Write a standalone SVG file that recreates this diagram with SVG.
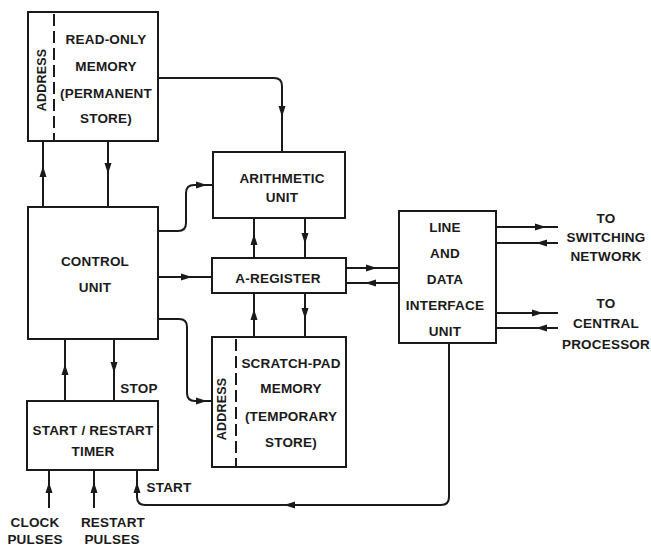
<svg xmlns="http://www.w3.org/2000/svg" xmlns:xlink="http://www.w3.org/1999/xlink" width="651" height="546" viewBox="0 0 651 546">
<style>
.box{fill:none;stroke:#1a1a1a;stroke-width:2}
.dash{stroke:#1a1a1a;stroke-width:2;stroke-dasharray:12 5}
.ln{fill:none;stroke:#1a1a1a;stroke-width:2}
text{font-family:"Liberation Sans",Arial,sans-serif;font-weight:bold;font-size:13.5px;fill:#1a1a1a;text-anchor:middle;dominant-baseline:central;letter-spacing:0.2px}
</style>
<defs>
<path id="ah" d="M6,0 L-5,-3.5 L-5,3.5 Z" fill="#1a1a1a"/>
</defs>
<rect width="651" height="546" fill="#fff"/>
<g id="rom">
<rect class="box" x="28" y="12" width="130" height="129"/>
<line class="dash" x1="54" y1="14" x2="54" y2="141"/>
<text transform="translate(42,80) rotate(-90)" style="font-size:12.5px">ADDRESS</text>
<text x="106" y="39">READ-ONLY</text>
<text x="106" y="66">MEMORY</text>
<text x="106" y="93">(PERMANENT</text>
<text x="106" y="118">STORE)</text>
</g>
<g id="arith">
<rect class="box" x="213" y="152" width="132" height="66"/>
<text x="282" y="178">ARITHMETIC</text>
<text x="282" y="197">UNIT</text>
</g>
<g id="control">
<rect class="box" x="28" y="207" width="130" height="132"/>
<text x="95" y="261">CONTROL</text>
<text x="95" y="287">UNIT</text>
</g>
<g id="areg">
<rect class="box" x="212" y="258" width="134" height="35"/>
<text x="278" y="278">A-REGISTER</text>
</g>
<g id="scratch">
<rect class="box" x="212" y="337" width="134" height="130"/>
<line class="dash" x1="236" y1="339" x2="236" y2="467"/>
<text transform="translate(222,409) rotate(-90)" style="font-size:12.5px">ADDRESS</text>
<text x="291" y="363">SCRATCH-PAD</text>
<text x="291" y="388">MEMORY</text>
<text x="291" y="416">(TEMPORARY</text>
<text x="291" y="442">STORE)</text>
</g>
<g id="interface">
<rect class="box" x="399" y="211" width="97" height="132"/>
<text x="445" y="227">LINE</text>
<text x="445" y="253">AND</text>
<text x="445" y="279">DATA</text>
<text x="445" y="305">INTERFACE</text>
<text x="445" y="331">UNIT</text>
</g>
<g id="timer">
<rect class="box" x="27" y="401" width="131" height="69"/>
<text x="93" y="430">START / RESTART</text>
<text x="93" y="451">TIMER</text>
</g>
<g id="labels">
<text x="606" y="218">TO</text>
<text x="606" y="237">SWITCHING</text>
<text x="606" y="256">NETWORK</text>
<text x="606" y="303">TO</text>
<text x="606" y="323">CENTRAL</text>
<text x="606" y="344">PROCESSOR</text>
<text x="139" y="388">STOP</text>
<text x="169" y="487">START</text>
<text x="35" y="522">CLOCK</text>
<text x="35" y="539">PULSES</text>
<text x="113" y="522">RESTART</text>
<text x="112" y="539">PULSES</text>
</g>
<g id="connectors">
<path class="ln" d="M43,141 V207"/>
<use xlink:href="#ah" transform="translate(43,172) rotate(-90)"/>
<path class="ln" d="M108,141 V207"/>
<use xlink:href="#ah" transform="translate(108,168) rotate(90)"/>
<path class="ln" d="M158,78 H274 Q282,78 282,86 V152"/>
<use xlink:href="#ah" transform="translate(282,111) rotate(90)"/>
<path class="ln" d="M158,231 H178 Q186,231 186,223 V193 Q186,185 194,185 H213"/>
<use xlink:href="#ah" transform="translate(201,185)"/>
<path class="ln" d="M158,277 H212"/>
<use xlink:href="#ah" transform="translate(186,277)"/>
<path class="ln" d="M158,319 H179 Q187,319 187,327 V393 Q187,401 195,401 H212"/>
<use xlink:href="#ah" transform="translate(201,401)"/>
<path class="ln" d="M254,218 V258"/>
<use xlink:href="#ah" transform="translate(254,240) rotate(-90)"/>
<path class="ln" d="M305,218 V258"/>
<use xlink:href="#ah" transform="translate(305,238) rotate(90)"/>
<path class="ln" d="M254,293 V337"/>
<use xlink:href="#ah" transform="translate(254,315) rotate(-90)"/>
<path class="ln" d="M305,293 V337"/>
<use xlink:href="#ah" transform="translate(305,313) rotate(90)"/>
<path class="ln" d="M346,268 H399"/>
<use xlink:href="#ah" transform="translate(371,268)"/>
<path class="ln" d="M346,283 H399"/>
<use xlink:href="#ah" transform="translate(371,283) rotate(180)"/>
<path class="ln" d="M496,227 H558"/>
<use xlink:href="#ah" transform="translate(540,227)"/>
<path class="ln" d="M496,243 H558"/>
<use xlink:href="#ah" transform="translate(542,243) rotate(180)"/>
<path class="ln" d="M496,313 H558"/>
<use xlink:href="#ah" transform="translate(537,313)"/>
<path class="ln" d="M496,328 H558"/>
<use xlink:href="#ah" transform="translate(542,328) rotate(180)"/>
<path class="ln" d="M449,343 V497 Q449,505 441,505 H145 Q137,505 137,497 V470"/>
<use xlink:href="#ah" transform="translate(290,505) rotate(180)"/>
<use xlink:href="#ah" transform="translate(137,488) rotate(-90)"/>
<path class="ln" d="M65,339 V401"/>
<use xlink:href="#ah" transform="translate(65,370) rotate(-90)"/>
<path class="ln" d="M114,339 V401"/>
<use xlink:href="#ah" transform="translate(114,367) rotate(90)"/>
<path class="ln" d="M49,508 V470"/>
<use xlink:href="#ah" transform="translate(49,488) rotate(-90)"/>
<path class="ln" d="M94,508 V470"/>
<use xlink:href="#ah" transform="translate(94,488) rotate(-90)"/>
</g>
</svg>
